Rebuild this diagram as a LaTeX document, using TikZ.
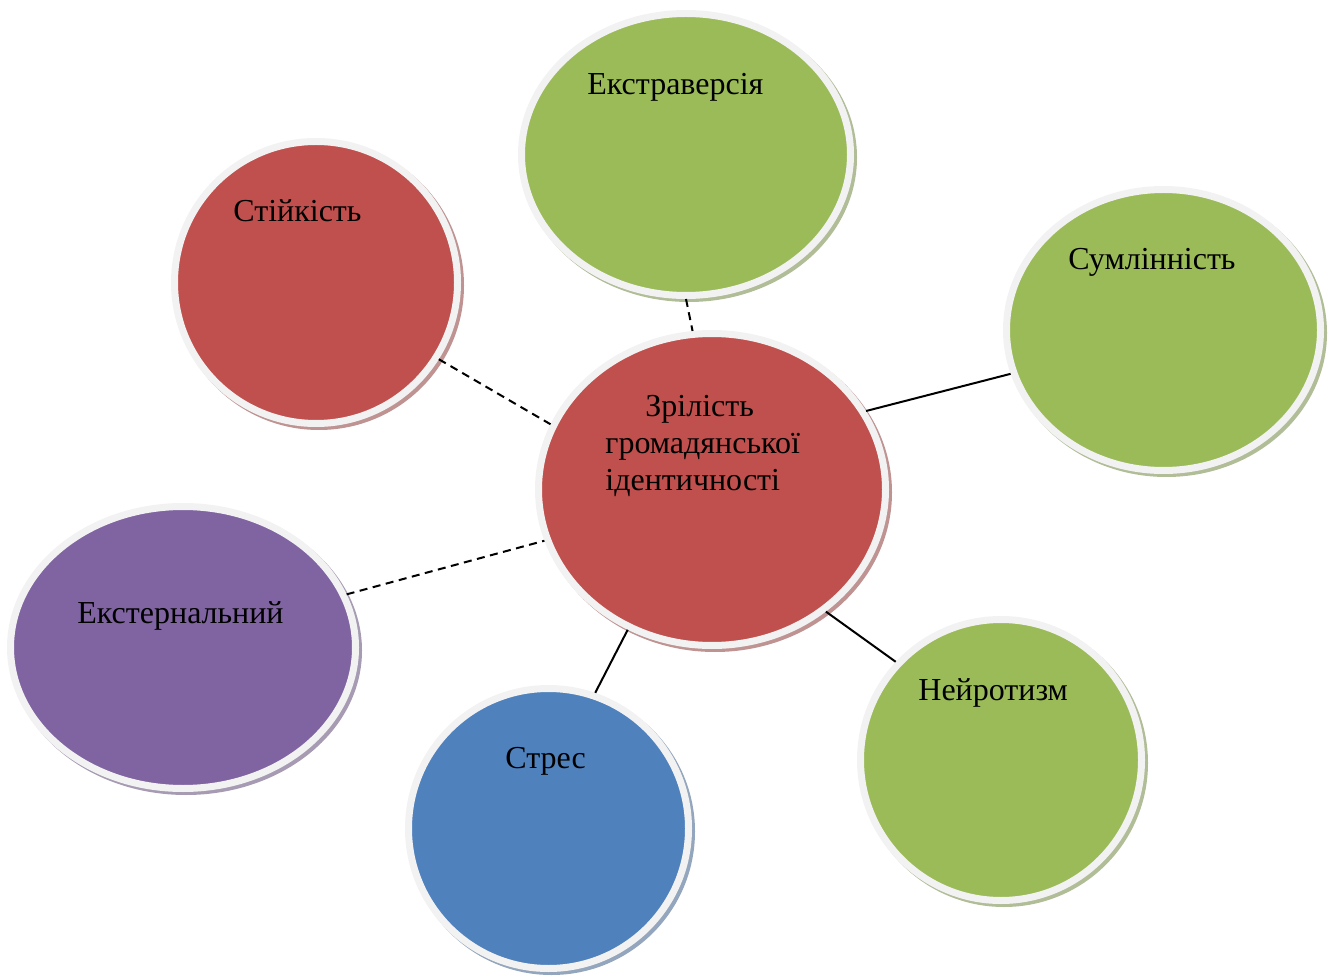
\documentclass[tikz,border=0pt]{standalone}
\usepackage{fontspec}
\setmainfont{Liberation Serif}
\usetikzlibrary{shapes.geometric,shadows}

\definecolor{ringGray}{HTML}{F2F2F2}
\definecolor{traitRed}{HTML}{C0504D}
\definecolor{traitGreen}{HTML}{9BBB59}
\definecolor{traitPurple}{HTML}{8064A2}
\definecolor{traitBlue}{HTML}{4F81BD}

\begin{document}
\begin{tikzpicture}
      [
        x=0.5pt, y=-0.5pt,
        Bubble/.style={ellipse, fill=#1, draw=ringGray, line width=3.5pt, inner sep=0pt,
          general shadow={shadow xshift=1.5pt, shadow yshift=-1.5pt,
            fill=#1!55!gray!70!white, draw=#1!55!gray!70!white, line width=3.5pt}},
        Caption/.style={inner sep=0pt, anchor=base west, font=\fontsize{16}{18.4}\selectfont},
        Link/.style={line width=1pt},
        LinkDash/.style={Link, dash pattern=on 4pt off 2.75pt},
      ]

      \useasboundingbox (0,0) rectangle (1328,978);

      \node [Bubble=traitGreen, minimum width=164.5pt, minimum height=141pt] (ekstra) at (686,154.5) {};
      \node [Bubble=traitRed, minimum width=141.5pt, minimum height=141pt] (stiyk) at (316,282.5) {};
      \node [Bubble=traitGreen, minimum width=157pt, minimum height=140.5pt] (sumlin) at (1163.5,330) {};
      \node [Bubble=traitPurple, minimum width=172.5pt, minimum height=141pt] (ekstern) at (183,647.5) {};
      \node [Bubble=traitBlue, minimum width=140pt, minimum height=140pt] (stres) at (548.5,828.5) {};
      \node [Bubble=traitGreen, minimum width=140.5pt, minimum height=140.5pt] (neyro) at (1001,760) {};
      \node [Bubble=traitRed, minimum width=173.5pt, minimum height=156pt] (zril) at (712,489.5) {};

      \node [Caption] (ekstraT) at (587,95) {Екстраверсія};
      \node [Caption] (stiykT) at (233,222) {Стійкість};
      \node [Caption] (sumlinT) at (1068,270) {Сумлінність};
      \node [Caption] (eksternT) at (77,623) {Екстернальний};
      \node [Caption] (stresT) at (505,768) {Стрес};
      \node [Caption] (neyroT) at (918,700) {Нейротизм};
      \node [Caption, anchor=north west, align=left] (zrilT) at (605,395)
        {\hspace{20pt}Зрілість\\громадянської\\ідентичності};

      \draw [LinkDash] (ekstra.-90) -- (zril.97);
      \draw [LinkDash] (stiyk.-32) -- (zril.158);
      \draw [LinkDash] (ekstern.18) -- (zril.-163);
      \draw [Link] (sumlin.-164) -- (zril.27);
      \draw [Link] (neyro.137) -- (zril.-47);
      \draw [Link] (stres.71) -- (zril.-121);
    \end{tikzpicture}
\end{document}
